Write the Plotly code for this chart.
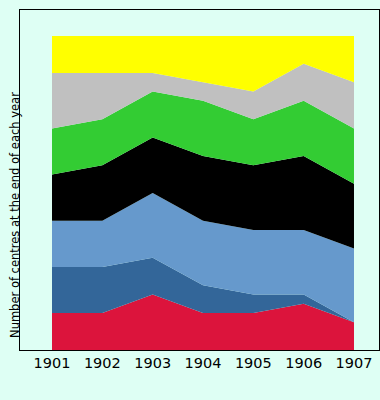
import plotly.graph_objects as go

years = [1901, 1902, 1903, 1904, 1905, 1906, 1907]
tick_labels = ["1901", "1902", "1903", "1904", "1905", "1906", "1907"]

red = [4, 4, 6, 4, 4, 5, 3]
dark_blue = [5, 5, 4, 3, 2, 1, 0]
light_blue = [5, 5, 7, 7, 7, 7, 8]
black = [5, 6, 6, 7, 7, 8, 7]
green = [5, 5, 5, 6, 5, 6, 6]
grey = [6, 5, 2, 2, 3, 4, 5]
yellow = [4, 4, 4, 5, 6, 3, 5]

series = [
    ("Red", red, "#DC143C"),
    ("Dark blue", dark_blue, "#336699"),
    ("Light blue", light_blue, "#6699CC"),
    ("Black", black, "#000000"),
    ("Green", green, "#33CC33"),
    ("Grey", grey, "#C0C0C0"),
    ("Yellow", yellow, "#FFFF00"),
]

bg = "#DEFFF4"

fig = go.Figure()
for name, vals, color in series:
    fig.add_trace(go.Scatter(
        x=years, y=vals, name=name, stackgroup="one", mode="none",
        fillcolor=color, line=dict(width=0), showlegend=False,
    ))

fig.update_layout(
    width=380, height=400,
    margin=dict(l=20, r=1, t=10, b=50),
    paper_bgcolor=bg, plot_bgcolor=bg,
    font=dict(family="DejaVu Sans", color="black"),
    xaxis=dict(
        range=[1900.364, 1907.497], tickmode="array", tickvals=years,
        ticktext=tick_labels, showgrid=False, zeroline=False,
        showline=True, linecolor="black", linewidth=1, mirror=True,
        ticks="", tickfont=dict(size=14.5, family="DejaVu Sans", color="black"),
    ),
    yaxis=dict(
        range=[0, 36.82], showticklabels=False, showgrid=False, zeroline=False,
        showline=True, linecolor="black", linewidth=1, mirror=True, ticks="",
    ),
    annotations=[dict(
        text="Number of centres at the end of each year",
        xref="paper", yref="paper", x=-0.014, y=(400 - 50 - 215) / 340,
        xanchor="center", yanchor="middle", textangle=-90, showarrow=False,
        font=dict(size=11.5, family="DejaVu Sans", color="black"),
    )],
)

fig.write_html(
    "out.html",
    config={"displayModeBar": False},
    post_script="document.body.style.margin='0';document.body.style.background='#DEFFF4';document.body.style.overflow='hidden';",
)
